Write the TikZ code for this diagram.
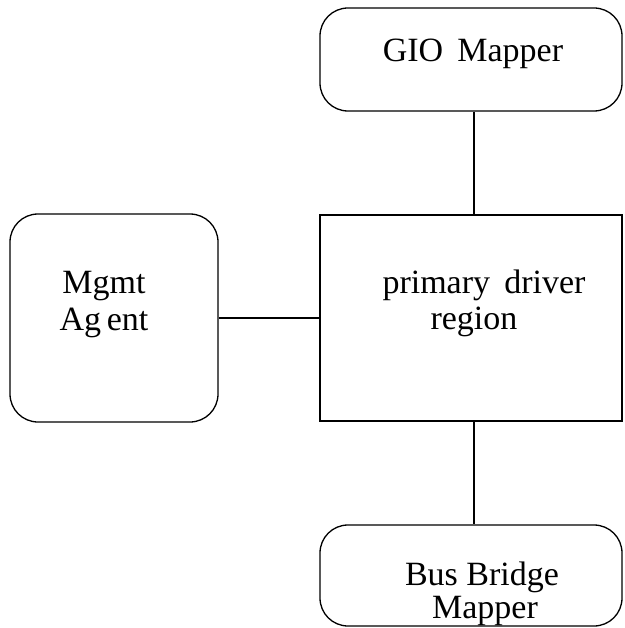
\documentclass[tikz,border=0pt]{standalone}
\usepackage{fontspec}
\setmainfont{Liberation Serif}
\begin{document}
\begin{tikzpicture}[x=1pt,y=-1pt,
  rbox/.style={draw, line width=1.3pt, rounded corners=28pt, inner sep=0pt},
  sbox/.style={draw, line width=1.3pt, inner sep=0pt},
  txt/.style={font=\fontsize{34}{37}\selectfont, inner sep=0pt, align=center},
  conn/.style={line width=1.3pt}]
\useasboundingbox (0,0) rectangle (624,628);
\node[rbox, minimum width=302pt, minimum height=103pt] (gio) at (471,59.5) {};
\node[sbox, minimum width=302pt, minimum height=206pt] (pdr) at (471,318) {};
\node[rbox, minimum width=208pt, minimum height=208pt] (mgmt) at (114,318) {};
\node[rbox, minimum width=302pt, minimum height=101pt] (bus) at (471,575.5) {};
\node[txt, anchor=base] (giot) at (473,62) {GIO\, Mapper};
\node[txt, anchor=base, align=left] (mgmtt) at (104,293) {Mgmt};
\node[txt, anchor=base, align=left] (mgmtt2) at (104,330) {Ag\,ent};
\node[txt, anchor=base] (pdrt) at (484,293) {primary\, driver};
\node[txt, anchor=base] (pdrt2) at (474,329) {region};
\node[txt, anchor=base] (bust) at (482,585) {Bus Bridge};
\node[txt, anchor=base] (bust2) at (485,618) {Mapper};
\draw[conn] ([xshift=3pt]gio.south) -- ([xshift=3pt]pdr.north);
\draw[conn] (mgmt.east) -- (pdr.west);
\draw[conn] ([xshift=3pt]pdr.south) -- ([xshift=3pt]bus.north);
\end{tikzpicture}
\end{document}
